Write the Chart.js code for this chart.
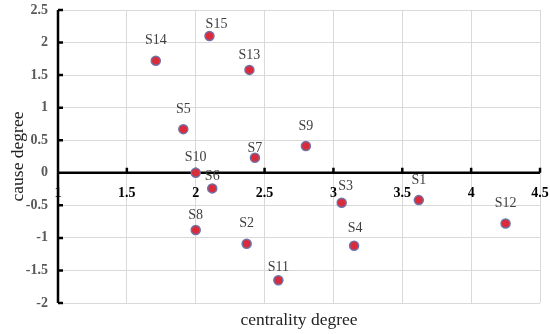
<!DOCTYPE html>
<html>
<head>
<meta charset="utf-8">
<script src="https://cdn.jsdelivr.net/npm/chart.js@4"></script>
<style>
  body { margin: 0; background: #fff; }
  #wrap { width: 550px; height: 334px; }
</style>
</head>
<body>
<div id="wrap"><canvas id="scatterChart" width="550" height="334"></canvas></div>
<script>
// values
const names = ['S1', 'S2', 'S3', 'S4', 'S5', 'S6', 'S7', 'S8', 'S9', 'S10', 'S11', 'S12', 'S13', 'S14', 'S15'];
const centrality = [3.62, 2.37, 3.06, 3.15, 1.91, 2.12, 2.43, 2.00, 2.80, 2.00, 2.60, 4.25, 2.39, 1.71, 2.10];
const cause = [-0.42, -1.09, -0.46, -1.12, 0.67, -0.24, 0.23, -0.88, 0.41, 0.00, -1.65, -0.78, 1.58, 1.72, 2.10];

const serif = "'Liberation Serif', 'Times New Roman', serif";

// label nudges (px) so labels sit like the original
const labelNudge = {
    S15: [7, -12], S7: [0, -9], S6: [0, -12], S3: [4, -16], S11: [0, -13],
    S13: [0, -15], S10: [0, -15], S8: [0, -15], S4: [1, -17]
};

const pointLabels = {
    id: 'pointLabels',
    afterDatasetsDraw(chart) {
        const ctx = chart.ctx;
        const meta = chart.getDatasetMeta(0);
        ctx.save();
        ctx.font = '14px ' + serif;
        ctx.fillStyle = '#404040';
        ctx.textAlign = 'center';
        ctx.textBaseline = 'middle';
        meta.data.forEach((pt, i) => {
            const n = labelNudge[names[i]] || [0, -20];
            ctx.fillText(names[i], pt.x + n[0], pt.y + n[1]);
        });
        ctx.restore();
    }
};

// black axes crossing at (1, 0) with inward ticks
const axesLines = {
    id: 'axesLines',
    beforeDatasetsDraw(chart) {
        const ctx = chart.ctx;
        const x = chart.scales.x, y = chart.scales.y;
        const x0 = x.getPixelForValue(1);
        const y0 = y.getPixelForValue(0);
        ctx.save();
        ctx.strokeStyle = '#000';
        ctx.lineWidth = 2.5;
        ctx.beginPath();
        ctx.moveTo(x0, y.top);
        ctx.lineTo(x0, y.bottom);
        ctx.moveTo(x.left, y0);
        ctx.lineTo(x.right, y0);
        y.ticks.forEach(t => {
            const py = y.getPixelForValue(t.value);
            ctx.moveTo(x0, py);
            ctx.lineTo(x0 + 5, py);
        });
        x.ticks.forEach(t => {
            const px = x.getPixelForValue(t.value);
            ctx.moveTo(px, y0);
            ctx.lineTo(px, y0 - 5);
        });
        ctx.stroke();
        ctx.restore();
    }
};

const ctx = document.getElementById('scatterChart').getContext('2d');
const chart = new Chart(ctx, {
    type: 'scatter',
    data: {
        datasets: [{
            data: centrality.map((v, i) => ({ x: v, y: cause[i] })),
            backgroundColor: '#d92b3a',
            borderColor: '#6f72a8',
            borderWidth: 1.5,
            pointRadius: 4.5,
            pointHoverRadius: 4.5
        }]
    },
    options: {
        responsive: false,
        animation: false,
        layout: { padding: { top: 10, right: 10, left: 0, bottom: 0 } },
        plugins: {
            legend: { display: false },
            tooltip: { enabled: false },
            title: {
                display: true,
                position: 'bottom',
                fullSize: false,
                text: 'centrality degree',
                color: '#222',
                font: { family: serif, size: 17.5, weight: 'normal' },
                padding: { top: 7, bottom: 3 }
            }
        },
        scales: {
            x: {
                type: 'linear',
                position: { y: 0 },
                min: 1,
                max: 4.5,
                afterFit(scale) { scale.paddingLeft = 0; scale.paddingRight = 0; },
                ticks: {
                    stepSize: 0.5,
                    color: '#000',
                    padding: 12,
                    maxRotation: 0,
                    callback: v => String(v),
                    font: { family: serif, size: 14, weight: 'bold' }
                },
                grid: { color: '#d9d9d9', drawTicks: false },
                border: { display: false }
            },
            y: {
                min: -2,
                max: 2.5,
                afterFit(scale) {
                    scale.width = 58;
                    scale.paddingTop = 0;
                    scale.paddingBottom = 0;
                },
                ticks: {
                    stepSize: 0.5,
                    color: '#595959',
                    padding: 10,
                    callback: v => String(v),
                    font: { family: serif, size: 14, weight: 'bold' }
                },
                grid: { color: '#d9d9d9', drawTicks: false },
                border: { display: false },
                title: {
                    display: true,
                    text: 'cause degree',
                    color: '#222',
                    font: { family: serif, size: 17.5, weight: 'normal' },
                    padding: { top: 8, bottom: 0 }
                }
            }
        }
    },
    plugins: [axesLines, pointLabels]
});
</script>
</body>
</html>
